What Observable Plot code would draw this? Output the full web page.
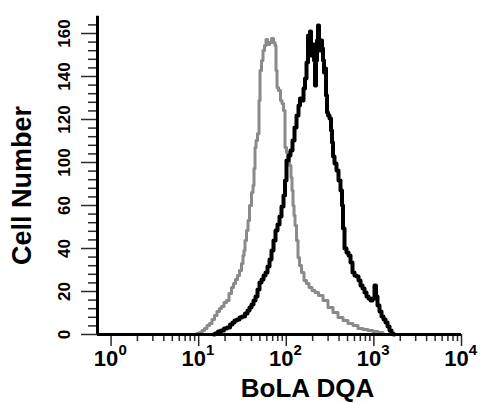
<!DOCTYPE html>
<html><head><meta charset="utf-8">
<script src="https://cdn.jsdelivr.net/npm/d3@7"></script>
<script src="https://cdn.jsdelivr.net/npm/@observablehq/plot@0.6"></script>
<style>
body{margin:0;background:#fff;}
svg{font-family:Arial,"Liberation Sans",sans-serif;}
</style>
</head><body><div id="chart"></div>
<script>
// Isotype control (gray) histogram: fluorescence intensity and cell counts
const grayX = [9.2, 9.95, 10.49, 11.35, 11.96, 12.95, 13.65, 14.77, 15.56, 16.84,
  17.75, 18.71, 20.24, 21.33, 23.08, 24.33, 25.65, 27.03, 28.49, 30.03,
  31.64, 32.48, 33.35, 34.24, 36.09, 37.05, 39.05, 41.17, 42.26, 43.38,
  44.54, 45.72, 48.19, 49.47, 50.79, 53.53, 54.95, 57.91, 59.46, 62.67,
  66.05, 69.61, 73.36, 75.34, 77.34, 79.4, 83.68, 88.19, 90.55, 95.43,
  97.97, 103.2, 106.0, 111.7, 114.7, 117.8, 120.9, 124.2, 127.5, 134.3,
  137.9, 145.3, 153.2, 165.8, 174.7, 189.1, 204.6, 221.3, 245.9, 280.3,
  319.7, 364.7, 415.9, 474.4, 540.9, 616.9, 703.8, 802.5, 915.0, 1043,
  1190, 1357];
const grayY = [0, 0.5, 0.9, 1.9, 2.8, 4.2, 5.1, 7.0, 8.8, 10.7,
  12.1, 13.0, 14.9, 15.8, 19.1, 21.9, 23.7, 25.6, 27.4, 29.8,
  33.0, 36.7, 39.1, 43.7, 48.4, 53.0, 60, 72.1, 78.6, 94.4,
  107.0, 110.2, 113.5, 128.8, 142.8, 147.4, 152.1, 154.4, 157.2, 154.9,
  155.8, 157.7, 155.8, 154.4, 142.8, 134.9, 133.5, 128.8, 127.4, 124.2,
  107.0, 104.7, 102.3, 97.2, 86.0, 74.0, 60, 55.3, 50.7, 43.7,
  35.8, 32.1, 28.8, 25.1, 23.7, 21.9, 20.5, 19.5, 18.1, 15.8,
  12.6, 10.2, 7.9, 6.5, 5.1, 4.2, 2.8, 2.3, 1.9, 1.4,
  0.9, 0];

// BoLA DQA stained (black) histogram
const blackX = [14.77, 15.97, 17.29, 18.71, 20.24, 21.9, 23.7, 24.98, 26.33, 28.49,
  30.03, 32.48, 35.16, 37.05, 39.05, 41.17, 43.38, 45.72, 48.19, 50.79,
  53.53, 56.41, 59.46, 62.67, 66.05, 69.61, 73.36, 77.34, 81.51, 85.9,
  90.55, 95.43, 97.97, 103.2, 108.8, 114.7, 120.9, 127.5, 134.3, 141.6,
  145.3, 153.2, 161.4, 165.8, 174.7, 179.4, 184.1, 189.1, 194.1, 204.6,
  210.1, 215.6, 221.3, 227.2, 233.2, 239.4, 245.9, 252.4, 259.1, 266.0,
  273.1, 280.3, 287.9, 295.5, 303.4, 319.7, 328.2, 337.0, 345.9, 364.7,
  384.3, 405.0, 426.9, 438.3, 450.0, 474.4, 500.0, 526.9, 555.3, 585.3,
  616.9, 650.2, 685.5, 722.5, 761.4, 802.5, 845.7, 891.3, 939.5, 990.1,
  1043, 1071, 1129, 1190, 1254, 1322, 1394, 1469, 1548, 1632,
  1719];
const blackY = [0, 0.5, 1.4, 1.9, 2.8, 3.3, 4.7, 5.6, 6.5, 7.0,
  7.9, 8.4, 9.8, 11.2, 12.6, 14.0, 15.8, 17.7, 20.9, 24.2,
  25.6, 27.4, 28.8, 31.6, 34.9, 39.1, 43.7, 48.4, 51.2, 54.9,
  59.5, 69.3, 83.3, 100.9, 103.3, 105.6, 110.2, 116.3, 121.9, 126.5,
  129.8, 128.8, 134.4, 139.1, 146.5, 159.1, 154.4, 160.9, 149.8, 154.9,
  147.4, 135.8, 147.4, 156.7, 163.7, 154.4, 152.1, 156.7, 153.0, 147.4,
  141.9, 143.7, 131.2, 123.3, 121.9, 120.5, 114.9, 109.3, 102.8, 99.1,
  92.6, 83.3, 74.0, 60, 49.3, 40.0, 38.1, 36.7, 33.5, 28.8,
  27.4, 27.0, 25.1, 22.8, 21.4, 19.5, 17.7, 16.7, 15.8, 16.7,
  22.8, 17.7, 13.5, 10.7, 8.4, 7.0, 5.6, 3.7, 1.9, 0.5,
  0];

// Axis ticks and labels (the original axis skips "80")
const yTicks = [0, 20, 40, 60, 100, 120, 140, 160];
const yTickLabels = ["0", "20", "40", "60", "100", "120", "140", "160"];
const yMinor = [4, 8, 12, 16, 24, 28, 32, 36, 44, 48, 52, 56, 68, 76, 84, 92,
  104, 108, 112, 116, 124, 128, 132, 136, 144, 148, 152, 156, 164];
const xTicks = [1, 10, 100, 1000, 10000];
const xTickBase = "10";
const xExponents = ["0", "1", "2", "3", "4"];
const xMinor = [2, 3, 4, 5, 6, 7, 8, 9, 20, 30, 40, 50, 60, 70, 80, 90,
  200, 300, 400, 500, 600, 700, 800, 900, 2000, 3000, 4000, 5000, 6000, 7000, 8000, 9000];
const xLabel = "BoLA DQA";
const yLabel = "Cell Number";

const xDomain = [0.7, 10000];
const yDomain = [0, 60, 100, 168];

const gray = grayX.map((x, i) => ({x, y: grayY[i]}));
const black = blackX.map((x, i) => ({x, y: blackY[i]}));
const yTickData = yTicks.map((v, i) => ({v, label: yTickLabels[i]}));
const xTickData = xTicks.map((v, i) => ({v, base: xTickBase, exp: xExponents[i]}));

const bold = {fontWeight: "bold", fill: "#000"};
const tickStyle = {stroke: "#2a2a2a", strokeWidth: 1.5, tickFormat: () => "", label: null};

const chart = Plot.plot({
  width: 482,
  height: 403,
  marginLeft: 97,
  marginRight: 21,
  marginTop: 16,
  marginBottom: 69,
  style: {background: "#fff", fontFamily: "Arial, 'Liberation Sans', sans-serif"},
  x: {type: "log", domain: xDomain},
  y: {type: "linear", domain: yDomain, range: [334, 205, 162, 15.8]},
  marks: [
    // tick marks via Plot's axis marks (labels drawn separately below)
    Plot.axisY(yMinor, {anchor: "left", tickSize: 9, ...tickStyle}),
    Plot.axisY(yTicks, {anchor: "left", tickSize: 16, ...tickStyle}),
    Plot.axisX(xMinor, {anchor: "bottom", tickSize: 7, ...tickStyle}),
    Plot.axisX(xTicks, {anchor: "bottom", tickSize: 12, ...tickStyle}),
    // histograms
    Plot.line(gray, {x: "x", y: "y", curve: "step", stroke: "#8a8a8a", strokeWidth: 3}),
    Plot.line(black, {x: "x", y: "y", curve: "step", stroke: "#000", strokeWidth: 4}),
    // axis lines
    Plot.ruleX([xDomain[0]], {y1: 0, y2: yDomain[yDomain.length - 1], stroke: "#000", strokeWidth: 3}),
    Plot.ruleY([0], {x1: xDomain[0], x2: xDomain[1], stroke: "#000", strokeWidth: 3}),
    // y tick labels
    Plot.text(yTickData, {x: xDomain[0], y: "v", text: "label", rotate: -90, dx: -33,
      fontSize: 17, ...bold}),
    // x tick labels with superscript exponents
    Plot.text(xTickData, {x: "v", y: 0, text: "base", dx: -5, dy: 24, fontSize: 22, ...bold}),
    Plot.text(xTickData, {x: "v", y: 0, text: "exp", dx: 11.5, dy: 15.5, fontSize: 15, ...bold}),
    // axis titles
    Plot.text([yLabel], {frameAnchor: "left", text: d => d, rotate: -90, dx: -75, dy: 10,
      textAnchor: "middle", lineAnchor: "middle", fontSize: 27, ...bold}),
    Plot.text([xLabel], {frameAnchor: "bottom", text: d => d, dx: 28, dy: 54,
      textAnchor: "middle", lineAnchor: "middle", fontSize: 26, ...bold})
  ]
});
document.getElementById("chart").appendChild(chart);
</script>
</body></html>
